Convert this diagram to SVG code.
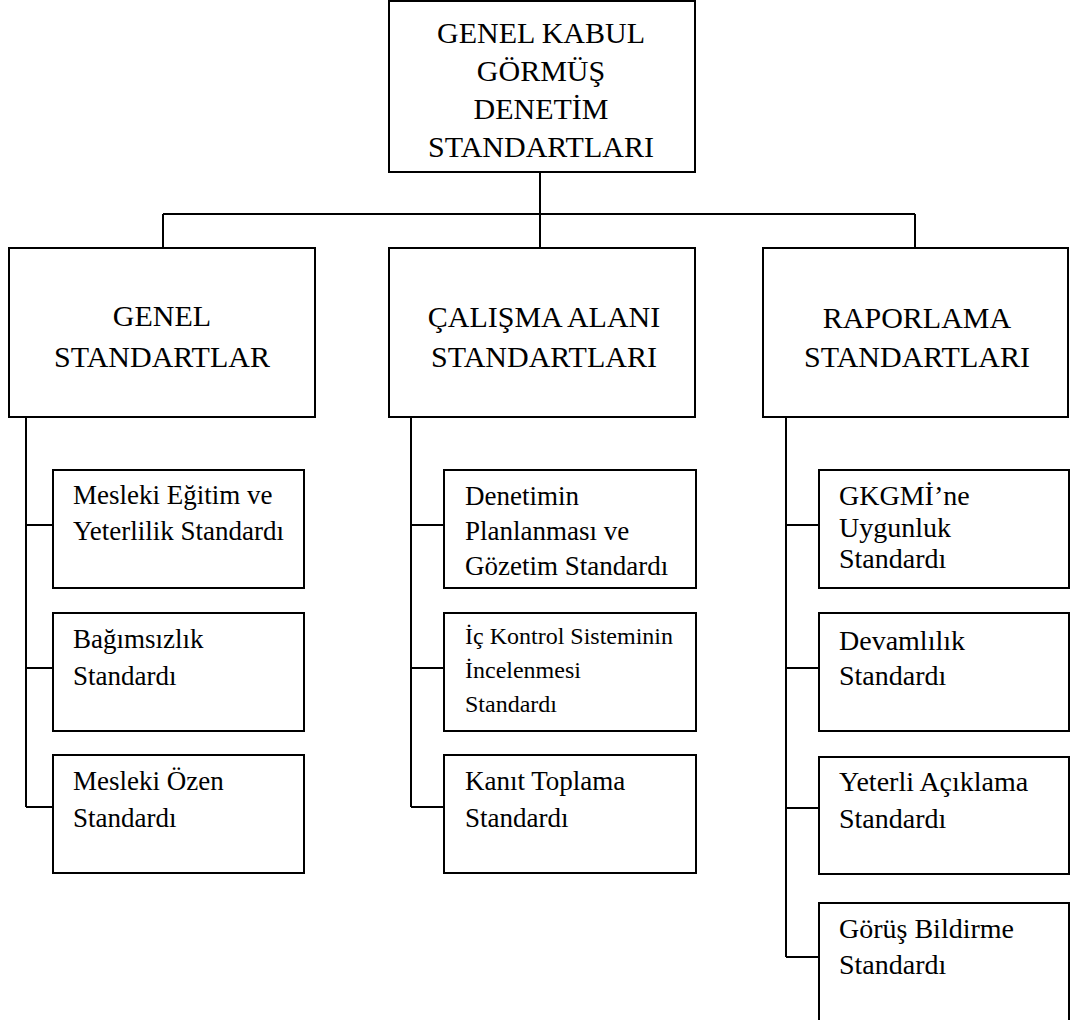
<svg xmlns="http://www.w3.org/2000/svg" width="1070" height="1020" viewBox="0 0 1070 1020">
<style>
.box{fill:#fff;stroke:#000;stroke-width:2}
.ln{fill:none;stroke:#000;stroke-width:2}
text{font-family:"Liberation Serif","Times New Roman",serif;fill:#000}
.h{font-size:30px;text-anchor:middle}
.s{font-size:27px}
.r{font-size:28px}
</style>
<rect width="1070" height="1020" fill="#fff"/>
<g id="connectors">
<path class="ln" d="M540 172V248M163 214H915M163 214V248M915 214V248"/>
<path class="ln" d="M26 417V807M26 525H53M26 668H53M26 807H53"/>
<path class="ln" d="M411 417V807M411 525H444M411 668H444M411 807H444"/>
<path class="ln" d="M786 417V957M786 525H819M786 668H819M786 808H819M786 957H819"/>
</g>
<g id="root">
<rect class="box" x="389" y="1" width="306" height="171"/>
<text class="h" x="541" y="43">GENEL KABUL</text>
<text class="h" x="541" y="81">GÖRMÜŞ</text>
<text class="h" x="541" y="119">DENETİM</text>
<text class="h" x="541" y="157">STANDARTLARI</text>
</g>
<g id="genel">
<rect class="box" x="9" y="248" width="306" height="169"/>
<text class="h" x="162" y="326">GENEL</text>
<text class="h" x="162" y="367">STANDARTLAR</text>
</g>
<g id="calisma">
<rect class="box" x="389" y="248" width="306" height="169"/>
<text class="h" x="544" y="327">ÇALIŞMA ALANI</text>
<text class="h" x="544" y="367">STANDARTLARI</text>
</g>
<g id="raporlama">
<rect class="box" x="763" y="248" width="305" height="169"/>
<text class="h" x="917" y="328">RAPORLAMA</text>
<text class="h" x="917" y="367">STANDARTLARI</text>
</g>
<g id="mesleki-egitim">
<rect class="box" x="53" y="470" width="251" height="118"/>
<text class="s" x="73" y="504" font-size="26.5">Mesleki Eğitim ve</text>
<text class="s" x="73" y="540" font-size="26.5">Yeterlilik Standardı</text>
</g>
<g id="bagimsizlik">
<rect class="box" x="53" y="613" width="251" height="118"/>
<text class="s" x="73" y="648">Bağımsızlık</text>
<text class="s" x="73" y="685">Standardı</text>
</g>
<g id="mesleki-ozen">
<rect class="box" x="53" y="755" width="251" height="118"/>
<text class="s" x="73" y="790">Mesleki Özen</text>
<text class="s" x="73" y="827">Standardı</text>
</g>
<g id="planlama">
<rect class="box" x="444" y="470" width="252" height="118"/>
<text class="s" x="465" y="505" font-size="26.5">Denetimin</text>
<text class="s" x="465" y="540" font-size="26.5">Planlanması ve</text>
<text class="s" x="465" y="575" font-size="26.5">Gözetim Standardı</text>
</g>
<g id="ic-kontrol">
<rect class="box" x="444" y="613" width="252" height="118"/>
<text class="s" x="465" y="644" style="font-size:24px">İç Kontrol Sisteminin</text>
<text class="s" x="465" y="678" style="font-size:24px">İncelenmesi</text>
<text class="s" x="465" y="712" style="font-size:24px">Standardı</text>
</g>
<g id="kanit">
<rect class="box" x="444" y="755" width="252" height="118"/>
<text class="s" x="465" y="790">Kanıt Toplama</text>
<text class="s" x="465" y="827">Standardı</text>
</g>
<g id="gkgmi">
<rect class="box" x="819" y="470" width="250" height="118"/>
<text class="r" x="839" y="505">GKGMİ’ne</text>
<text class="r" x="839" y="537">Uygunluk</text>
<text class="r" x="839" y="568">Standardı</text>
</g>
<g id="devamlilik">
<rect class="box" x="819" y="613" width="250" height="118"/>
<text class="r" x="839" y="650">Devamlılık</text>
<text class="r" x="839" y="685">Standardı</text>
</g>
<g id="yeterli">
<rect class="box" x="819" y="757" width="250" height="117"/>
<text class="r" x="839" y="791">Yeterli Açıklama</text>
<text class="r" x="839" y="828">Standardı</text>
</g>
<g id="gorus">
<rect class="box" x="819" y="903" width="250" height="119"/>
<text class="r" x="839" y="938">Görüş Bildirme</text>
<text class="r" x="839" y="974">Standardı</text>
</g>
</svg>
